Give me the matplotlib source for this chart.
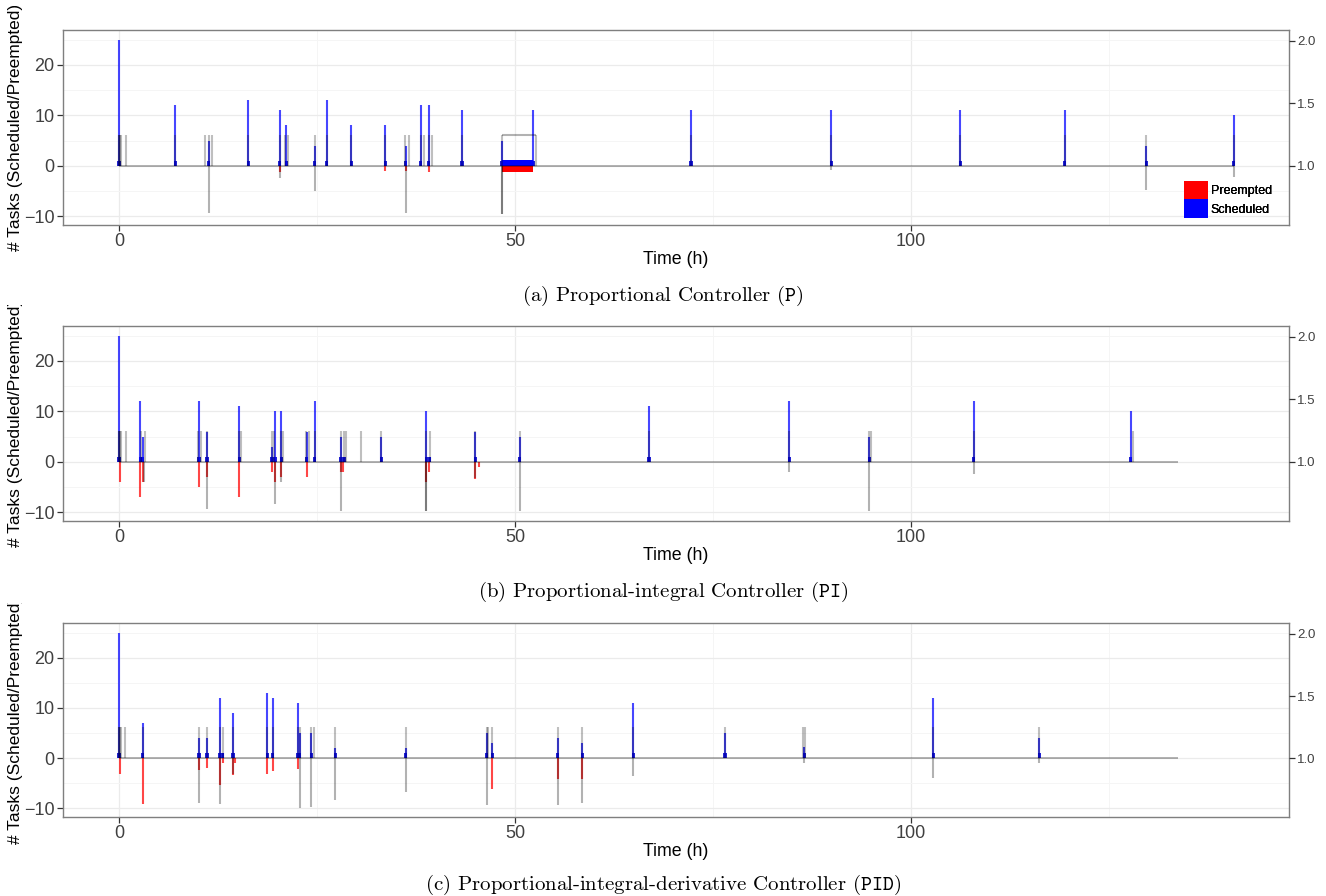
import matplotlib
matplotlib.use("Agg")
import matplotlib.pyplot as plt
from matplotlib.patches import Patch
from matplotlib.transforms import Bbox, TransformedBbox

plt.rcParams['font.family'] = ['Liberation Sans', 'DejaVu Sans']
plt.rcParams['mathtext.fontset'] = 'cm'

W, H = 1326, 896

# ---------------- data ----------------
ctrl_base = 1.0
ctrl_peak = 1.25

# (a) Proportional controller
a_sched_t = [0, 7.1, 11.3, 16.3, 20.3, 21.1, 24.7, 26.2, 29.3, 33.6, 36.2, 38.1, 39.1,
             43.3, 48.3, 52.3, 72.2, 89.9, 106.2, 119.4, 129.7, 140.7]
a_sched_v = [25, 12, 5, 13, 11, 8, 4, 13, 8, 8, 4, 12, 12,
             11, 5, 11, 11, 11, 11, 11, 4, 10]
a_pre_t = [20.3, 33.6, 36.2, 39.1]
a_pre_v = [-1.2, -1.0, -1.0, -1.2]
a_plateau_t = [48.3, 52.3]
a_plateau_sched = 1.2
a_plateau_pre = -1.3
a_up_t = [0, 0.05, 0.15, 0.25, 0.9, 7.1, 10.9, 11.3, 11.7, 16.3, 20.3, 21.0, 21.3, 24.7,
          26.2, 29.3, 33.6, 36.1, 36.6, 38.1, 38.5, 39.1, 39.5, 43.3, 48.3, 52.6,
          72.2, 89.9, 106.2, 119.4, 129.7, 140.7]
a_down_t = [11.3, 20.3, 24.7, 36.2, 48.3, 48.3, 89.9, 129.7, 140.7]
a_down_v = [0.62, 0.90, 0.80, 0.62, 0.615, 0.615, 0.97, 0.81, 0.915]
a_hold_t = [48.3, 52.6]
a_end = 140.7

# (b) Proportional-integral controller
b_sched_t = [0, 2.7, 3.0, 10.1, 11.1, 15.2, 19.3, 19.7, 20.5, 23.7, 24.7, 28.0, 28.4,
             33.1, 38.8, 39.2, 45.0, 50.6, 66.9, 84.6, 94.7, 107.9, 127.7]
b_sched_v = [25, 12, 5, 12, 6, 11, 3, 10, 10, 6, 12, 5, 1,
             5, 10, 1, 6, 5, 11, 12, 5, 12, 10]
b_pre_t = [0.1, 2.7, 3.0, 10.1, 11.1, 15.2, 19.3, 19.7, 20.5, 23.7, 28.0, 28.3,
           38.8, 39.1, 45.0, 45.4]
b_pre_v = [-4, -7, -4, -5, -3, -7, -2, -4, -3, -3, -2, -2,
           -4, -2, -3.3, -1]
b_up_t = [0, 0.05, 0.15, 0.25, 0.9, 2.8, 3.3, 10.0, 10.3, 11.1, 15.2, 15.4, 19.3, 19.6,
          20.4, 20.7, 23.6, 24.0, 24.7, 28.0, 28.4, 28.7, 30.6, 33.1, 38.8, 39.2,
          45.0, 50.6, 66.9, 84.6, 94.7, 94.9, 107.9, 128.0]
b_down_t = [3.2, 11.1, 19.7, 20.5, 28.0, 38.8, 38.8, 45.0, 50.6, 84.6, 94.7, 107.9]
b_down_v = [0.84, 0.62, 0.66, 0.84, 0.61, 0.61, 0.61, 0.87, 0.61, 0.92, 0.61, 0.90]
b_end = 133.7

# (c) Proportional-integral-derivative controller
c_sched_t = [0, 3.0, 10.1, 11.1, 12.7, 13.1, 14.4, 18.7, 19.4, 22.6, 22.8, 24.3, 27.3,
             36.2, 46.4, 47.1, 55.4, 58.5, 64.9, 76.5, 86.5, 102.8, 116.2]
c_sched_v = [25, 7, 4, 4, 12, 1, 9, 13, 12, 11, 5, 5, 2,
             2, 5, 3, 4, 3, 11, 5, 2.3, 12, 4]
c_pre_t = [0.1, 3.0, 10.1, 11.1, 12.7, 13.1, 14.4, 14.7, 18.7, 19.4, 22.6, 47.1, 55.4, 58.5]
c_pre_v = [-3.1, -9.1, -2.3, -2, -5.3, -1, -3.3, -1, -3.1, -2.5, -2.1, -6.1, -4.1, -4.1]
c_up_t = [0, 0.05, 0.15, 0.25, 0.8, 3.0, 10.1, 11.1, 12.7, 13.1, 14.4, 18.7, 19.4, 22.6,
          22.9, 24.3, 24.6, 27.3, 36.2, 46.4, 46.6, 47.1, 55.4, 58.5, 64.9, 76.5,
          86.4, 86.6, 102.8, 116.2]
c_down_t = [10.1, 12.7, 14.4, 22.8, 24.3, 27.3, 36.2, 46.4, 55.4, 58.5, 64.9, 86.5, 102.8, 116.2]
c_down_v = [0.64, 0.63, 0.87, 0.60, 0.61, 0.66, 0.725, 0.624, 0.62, 0.636, 0.855, 0.96, 0.84, 0.96]
c_end = 133.7

x_ticks = [0, 50, 100]
y_ticks = [-10, 0, 10, 20]
r_ticks = [1.0, 1.5, 2.0]
legend_labels = ["Preempted", "Scheduled"]
captions = [r"(a) Proportional Controller ($\mathtt{P}$)",
            r"(b) Proportional-integral Controller ($\mathtt{PI}$)",
            r"(c) Proportional-integral-derivative Controller ($\mathtt{PID}$)"]
ylabel = "# Tasks (Scheduled/Preempted)"
xlabel = "Time (h)"

# ---------------- layout ----------------
fig = plt.figure(figsize=(W / 100, H / 100), dpi=100)
XL = (-7.07, 147.7)
YL = (-11.7, 26.9)
SCALE = 24.75  # left units per right unit
RL = (ctrl_base + YL[0] / SCALE, ctrl_base + YL[1] / SCALE)

panels_px = [(30, 225), (326, 521), (623, 817)]
label_clip_top = [6, 305, 603]
caption_y = [296, 592, 885]
xlabel_y = [259, 555, 851]

panel_data = [
    (a_sched_t, a_sched_v, a_pre_t, a_pre_v, a_up_t, a_down_t, a_down_v, a_end),
    (b_sched_t, b_sched_v, b_pre_t, b_pre_v, b_up_t, b_down_t, b_down_v, b_end),
    (c_sched_t, c_sched_v, c_pre_t, c_pre_v, c_up_t, c_down_t, c_down_v, c_end),
]

left_px, right_px = 63, 1289
tick_col = '#333333'
lab_col = '#404040'

for i, (top, bot) in enumerate(panels_px):
    st, sv, pt, pv, ut, dt, dv, tend = panel_data[i]
    ax = fig.add_axes([left_px / W, 1 - bot / H, (right_px - left_px) / W, (bot - top) / H])
    ax.set_xlim(XL)
    ax.set_ylim(YL)
    ax.set_xticks(x_ticks)
    ax.set_xticks([25, 75, 125], minor=True)
    ax.set_yticks(y_ticks)
    ax.set_yticks([-5, 5, 15, 25], minor=True)
    ax.grid(True, which='major', color='#ebebeb', lw=0.9)
    ax.grid(True, which='minor', color='#f5f5f5', lw=0.7)
    ax.set_axisbelow(True)
    ax.tick_params(which='minor', length=0)
    ax.tick_params(which='major', length=4, width=0.9, color=tick_col,
                   labelsize=13, labelcolor=lab_col, pad=2)
    for s in ax.spines.values():
        s.set_color('#7f7f7f')
        s.set_linewidth(1.0)

    # scheduled (positive) and preempted (negative)
    ax.vlines(st, 0, sv, color='blue', alpha=0.72, lw=1.5)
    ax.bar(st, [min(v, 1.0) for v in sv], width=0.4, color='#0000cc', alpha=0.85, lw=0)
    ax.vlines(pt, 0, pv, color='red', alpha=0.72, lw=1.5)
    if i == 0:
        w = a_plateau_t[1] - a_plateau_t[0]
        ax.bar(a_plateau_t[0], a_plateau_sched, width=w, align='edge', color='blue', lw=0)
        ax.bar(a_plateau_t[0], a_plateau_pre, width=w, align='edge', color='red', lw=0)

    # controller output on right axis
    ax2 = ax.twinx()
    ax2.set_ylim(RL)
    ax2.set_yticks(r_ticks)
    ax2.set_yticklabels(["%.1f" % r for r in r_ticks])
    ax2.tick_params(length=4, width=0.9, color=tick_col, labelsize=9.5,
                    labelcolor=lab_col, pad=2)
    for s in ax2.spines.values():
        s.set_visible(False)
    ax2.hlines(ctrl_base, 0, tend, color='black', alpha=0.35, lw=1.2)
    ax2.vlines(ut, ctrl_base, ctrl_peak, color='black', alpha=0.25, lw=1.5)
    ax2.vlines(dt, dv, ctrl_base, color='black', alpha=0.3, lw=1.5)
    if i == 0:
        ax2.hlines(ctrl_peak, a_hold_t[0], a_hold_t[1], color='black', alpha=0.3, lw=1.5)

    # legend
    handles = [Patch(facecolor='red', edgecolor='none'), Patch(facecolor='blue', edgecolor='none')]
    ax2.legend(handles, legend_labels, loc='lower left',
               bbox_to_anchor=((1184 - left_px) / (right_px - left_px), (bot - 218) / (bot - top)),
               frameon=False, fontsize=9, handlelength=1.9, handleheight=1.9,
               labelspacing=0.0, handletextpad=0.25, borderpad=0.0, borderaxespad=0.0)

    # axis title
    fig.text(676 / W, 1 - xlabel_y[i] / H, xlabel, ha='center', va='center', fontsize=12.8)
    yl = fig.text(16 / W, 1 - ((top + bot) / 2) / H, ylabel, rotation=90,
                  ha='center', va='center', fontsize=12.5)
    yl.set_clip_box(TransformedBbox(Bbox([[0, 0], [1, 1 - label_clip_top[i] / H]]), fig.transFigure))
    yl.set_clip_on(True)

    # caption
    fig.text(663 / W, 1 - caption_y[i] / H, captions[i], ha='center', va='center',
             fontsize=15, family=['cmr10', 'DejaVu Serif'])

fig.savefig("out.png", dpi=100)
